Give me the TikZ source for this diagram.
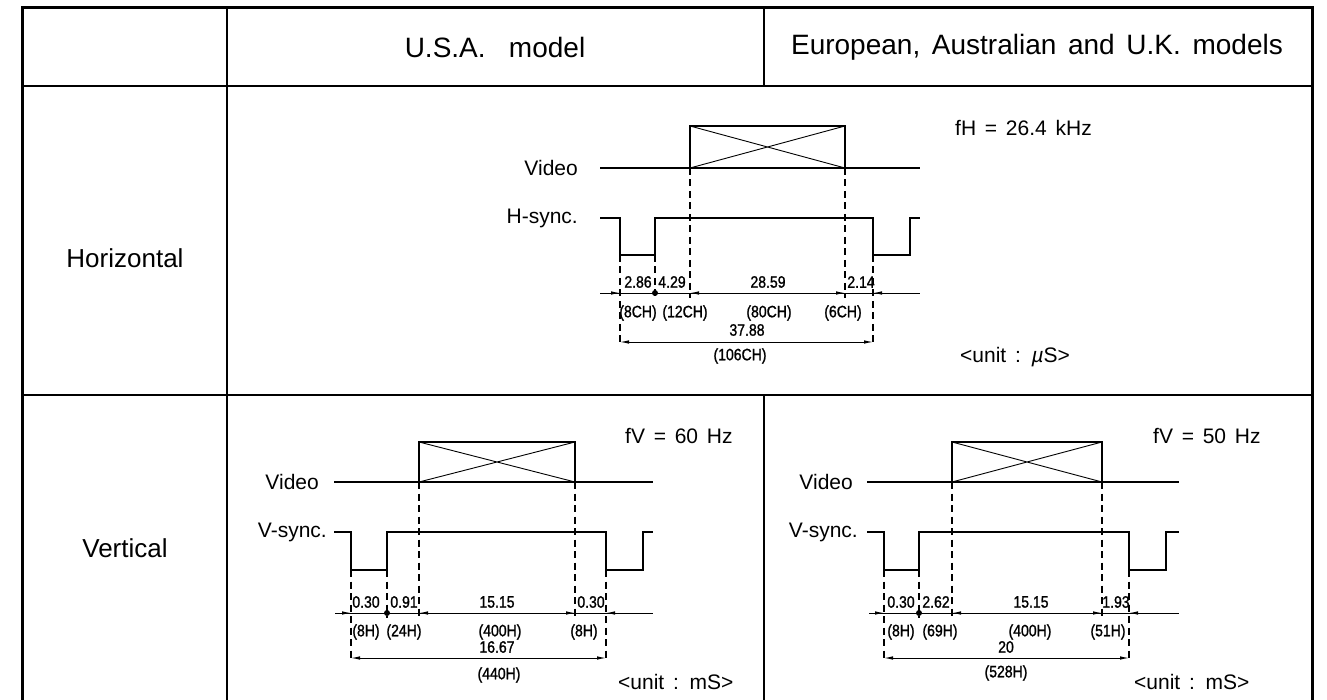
\documentclass[tikz,border=0pt]{standalone}
\usepackage{fontspec}
\setmainfont{Liberation Sans}[WordSpace=1.5]
\newfontfamily\dimfont{Liberation Sans}[FakeStretch=0.85, FakeBold=1.2]
\usetikzlibrary{arrows.meta}
\tikzset{
  signal/.style={line width=2.4pt, line join=miter},
  cross/.style={line width=0.9pt},
  guide/.style={line width=1.1pt, dash pattern=on 7pt off 4.5pt},
  dimline/.style={line width=0.9pt},
  tip/.style={-{Latex[length=9pt,width=3.5pt]}, line width=0.9pt},
  both/.style={{Latex[length=9pt,width=3.5pt]}-{Latex[length=9pt,width=3.5pt]}, line width=0.9pt},
  num/.style={font=\dimfont\fontsize{16.5}{18}\selectfont, inner sep=0pt},
  word/.style={font=\fontsize{21}{24}\selectfont, inner sep=0pt},
  row/.style={font=\fontsize{26}{30}\selectfont, inner sep=0pt},
  head/.style={font=\fontsize{28}{30}\selectfont, inner sep=0pt},
  grid/.style={line width=1.3pt},
  frame/.style={line width=3pt}
}

\begin{document}
\begin{tikzpicture}[x=1pt,y=-1pt]
\useasboundingbox (0,0) rectangle (1327,700);

% table
\draw[frame] (22,712) -- (22,8) -- (1312,8) -- (1312,712);
\draw[grid] (22,86) -- (1312,86);
\draw[grid] (22,395) -- (1312,395);
\draw[grid] (227,8) -- (227,712);
\draw[grid] (764,8) -- (764,86);
\draw[grid] (764,395) -- (764,712);

\node[head] (usa) at (495,47) {U.S.A.\ \ model};
\node[head] (eu) at (1037,47) {European, Australian and U.K. models};
\node[row] (horiz) at (125,258) {Horizontal};
\node[row] (vert) at (125,548) {Vertical};

% horizontal timing
\node[word, anchor=east] (hvid) at (578,168) {Video};
\node[word, anchor=east] (hsync) at (578,218) {H-sync.};
\node[word, anchor=west] (fh) at (955,128) {fH = 26.4 kHz};
\node[word, anchor=west] (hunit) at (960,357) {<unit : {\itshape µ}S>};

\draw[signal] (600,168) -- (920,168);
\draw[signal] (690,168) -- (690,126) -- (845,126) -- (845,168);
\draw[cross] (690,126) -- (845,168) (690,168) -- (845,126);
\draw[signal] (600,218) -- (620,218) -- (620,255) -- (655,255) -- (655,218)
  -- (873,218) -- (873,255) -- (910,255) -- (910,218) -- (920,218);

\draw[guide] (690,168) -- (690,298);
\draw[guide] (845,168) -- (845,298);
\draw[guide] (620,255) -- (620,342);
\draw[guide] (655,255) -- (655,298);
\draw[guide] (873,255) -- (873,342);

\draw[dimline] (600,293) -- (920,293);
\draw[tip] (603,293) -- (620,293);
\draw[tip] (707,293) -- (690,293);
\draw[tip] (828,293) -- (845,293);
\draw[tip] (890,293) -- (873,293);
\fill (655,293) circle (3pt);
\draw[both] (620,342) -- (873,342);

\node[num] (h1) at (638,282) {2.86};
\node[num] (h2) at (672,282) {4.29};
\node[num] (h3) at (768,282) {28.59};
\node[num] (h4) at (861,282) {2.14};
\node[num] (h5) at (638,313) {(8CH)};
\node[num] (h6) at (685,313) {(12CH)};
\node[num] (h7) at (769,313) {(80CH)};
\node[num] (h8) at (843,313) {(6CH)};
\node[num] (h9) at (747,330) {37.88};
\node[num] (h10) at (740,356) {(106CH)};

% vertical timing, U.S.A.
\node[word, anchor=east] (uvid) at (319,482) {Video};
\node[word, anchor=east] (usync) at (327,532) {V-sync.};
\node[word, anchor=west] (ufv) at (625,436) {fV = 60 Hz};
\node[word, anchor=west] (uunit) at (618,682) {<unit : mS>};

\draw[signal] (334,482) -- (653,482);
\draw[signal] (419,482) -- (419,442) -- (575,442) -- (575,482);
\draw[cross] (419,442) -- (575,482) (419,482) -- (575,442);
\draw[signal] (334,532) -- (351,532) -- (351,570) -- (387,570) -- (387,532)
  -- (606,532) -- (606,570) -- (643,570) -- (643,532) -- (653,532);

\draw[guide] (419,482) -- (419,618);
\draw[guide] (575,482) -- (575,618);
\draw[guide] (351,570) -- (351,658);
\draw[guide] (387,570) -- (387,618);
\draw[guide] (606,570) -- (606,658);

\draw[dimline] (335,613) -- (653,613);
\draw[tip] (336,613) -- (351,613);
\draw[tip] (436,613) -- (419,613);
\draw[tip] (558,613) -- (575,613);
\draw[tip] (623,613) -- (606,613);
\fill (387,613) circle (3pt);
\draw[both] (351,658) -- (606,658);

\node[num] (u1) at (366,602) {0.30};
\node[num] (u2) at (404,602) {0.91};
\node[num] (u3) at (497,602) {15.15};
\node[num] (u4) at (591,602) {0.30};
\node[num] (u5) at (366,632) {(8H)};
\node[num] (u6) at (404,632) {(24H)};
\node[num] (u7) at (500,632) {(400H)};
\node[num] (u8) at (584,632) {(8H)};
\node[num] (u9) at (497,647) {16.67};
\node[num] (u10) at (499,675) {(440H)};

% vertical timing, European, Australian and U.K.
\node[word, anchor=east] (evid) at (853,482) {Video};
\node[word, anchor=east] (esync) at (858,532) {V-sync.};
\node[word, anchor=west] (efv) at (1153,436) {fV = 50 Hz};
\node[word, anchor=west] (eunit) at (1134,682) {<unit : mS>};

\draw[signal] (867,482) -- (1179,482);
\draw[signal] (952,482) -- (952,442) -- (1102,442) -- (1102,482);
\draw[cross] (952,442) -- (1102,482) (952,482) -- (1102,442);
\draw[signal] (867,532) -- (884,532) -- (884,570) -- (919,570) -- (919,532)
  -- (1129,532) -- (1129,570) -- (1166,570) -- (1166,532) -- (1179,532);

\draw[guide] (952,482) -- (952,618);
\draw[guide] (1102,482) -- (1102,618);
\draw[guide] (884,570) -- (884,658);
\draw[guide] (919,570) -- (919,618);
\draw[guide] (1129,570) -- (1129,658);

\draw[dimline] (869,613) -- (1179,613);
\draw[tip] (869,613) -- (884,613);
\draw[tip] (969,613) -- (952,613);
\draw[tip] (1085,613) -- (1102,613);
\draw[tip] (1146,613) -- (1129,613);
\fill (919,613) circle (3pt);
\draw[both] (884,658) -- (1129,658);

\node[num] (e1) at (901,602) {0.30};
\node[num] (e2) at (936,602) {2.62};
\node[num] (e3) at (1031,602) {15.15};
\node[num] (e4) at (1116,602) {1.93};
\node[num] (e5) at (901,632) {(8H)};
\node[num] (e6) at (940,632) {(69H)};
\node[num] (e7) at (1030,632) {(400H)};
\node[num] (e8) at (1108,632) {(51H)};
\node[num] (e9) at (1006,647) {20};
\node[num] (e10) at (1006,673) {(528H)};
\end{tikzpicture}
\end{document}
